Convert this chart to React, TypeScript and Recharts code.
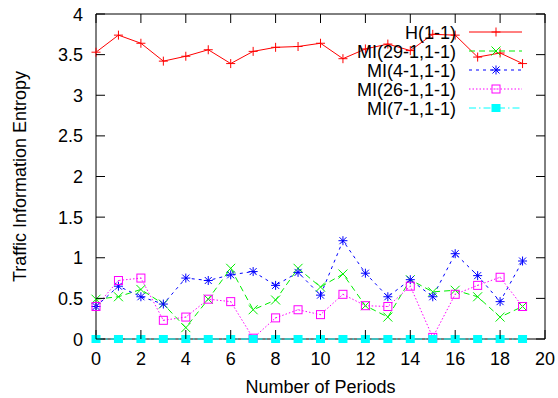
import React from 'react';
import { LineChart, Line, XAxis, YAxis, Legend, ReferenceArea } from 'recharts';

const periods = [0, 1, 2, 3, 4, 5, 6, 7, 8, 9, 10, 11, 12, 13, 14, 15, 16, 17, 18, 19];
const H = [3.53, 3.74, 3.64, 3.42, 3.48, 3.56, 3.39, 3.54, 3.59, 3.6, 3.64, 3.45, 3.57, 3.63, 3.55, 3.75, 3.74, 3.47, 3.52, 3.39];
const MI29 = [0.49, 0.52, 0.61, 0.43, 0.14, 0.49, 0.87, 0.36, 0.48, 0.87, 0.64, 0.8, 0.41, 0.27, 0.73, 0.58, 0.6, 0.52, 0.27, 0.4];
const MI4 = [0.4, 0.65, 0.52, 0.43, 0.75, 0.72, 0.79, 0.83, 0.66, 0.82, 0.54, 1.21, 0.81, 0.52, 0.73, 0.52, 1.05, 0.78, 0.46, 0.96];
const MI26 = [0.4, 0.72, 0.75, 0.23, 0.27, 0.49, 0.46, 0.01, 0.26, 0.36, 0.3, 0.55, 0.41, 0.4, 0.65, 0.02, 0.55, 0.66, 0.76, 0.4];
const MI7 = [0, 0, 0, 0, 0, 0, 0, 0, 0, 0, 0, 0, 0, 0, 0, 0, 0, 0, 0, 0];

const xTicks = [0, 2, 4, 6, 8, 10, 12, 14, 16, 18, 20];
const yTicks = [0, 0.5, 1, 1.5, 2, 2.5, 3, 3.5, 4];
const seriesNames = ['H(1-1)', 'MI(29-1,1-1)', 'MI(4-1,1-1)', 'MI(26-1,1-1)', 'MI(7-1,1-1)'];

const data = periods.map((p, i) => ({
  period: p,
  h: H[i],
  mi29: MI29[i],
  mi4: MI4[i],
  mi26: MI26[i],
  mi7: MI7[i],
}));

type Shape = 'plus' | 'cross' | 'star' | 'openSquare' | 'filledSquare';

const series: { key: string; name: string; color: string; dash?: string; shape: Shape }[] = [
  { key: 'h', name: seriesNames[0], color: '#ff0000', shape: 'plus' },
  { key: 'mi29', name: seriesNames[1], color: '#00ee00', dash: '6 4', shape: 'cross' },
  { key: 'mi4', name: seriesNames[2], color: '#0000ff', dash: '3 4', shape: 'star' },
  { key: 'mi26', name: seriesNames[3], color: '#ff00ff', dash: '1.5 2', shape: 'openSquare' },
  { key: 'mi7', name: seriesNames[4], color: '#00ffff', dash: '7 3 1.5 3', shape: 'filledSquare' },
];

const PW = 449;
const PH = 325;
const FS = 18;

function marker(shape: Shape, cx: number, cy: number, color: string, key?: string) {
  const r = 4.5;
  switch (shape) {
    case 'plus':
      return (
        <g key={key}>
          <line x1={cx - r} x2={cx + r} y1={cy} y2={cy} stroke={color} strokeWidth={1} />
          <line x1={cx} x2={cx} y1={cy - r} y2={cy + r} stroke={color} strokeWidth={1} />
        </g>
      );
    case 'cross':
      return (
        <g key={key}>
          <line x1={cx - r} x2={cx + r} y1={cy - r} y2={cy + r} stroke={color} strokeWidth={1} />
          <line x1={cx - r} x2={cx + r} y1={cy + r} y2={cy - r} stroke={color} strokeWidth={1} />
        </g>
      );
    case 'star':
      return (
        <g key={key}>
          <line x1={cx - r} x2={cx + r} y1={cy} y2={cy} stroke={color} strokeWidth={1} />
          <line x1={cx} x2={cx} y1={cy - r} y2={cy + r} stroke={color} strokeWidth={1} />
          <line x1={cx - 3.5} x2={cx + 3.5} y1={cy - 3.5} y2={cy + 3.5} stroke={color} strokeWidth={1} />
          <line x1={cx - 3.5} x2={cx + 3.5} y1={cy + 3.5} y2={cy - 3.5} stroke={color} strokeWidth={1} />
        </g>
      );
    case 'openSquare':
      return (
        <g key={key}>
          <rect x={cx - 4} y={cy - 4} width={8} height={8} fill="none" stroke={color} strokeWidth={1} />
          <rect x={cx - 0.5} y={cy - 0.5} width={1} height={1} fill={color} />
        </g>
      );
    case 'filledSquare':
    default:
      return <rect key={key} x={cx - 4.5} y={cy - 4} width={9} height={8} fill={color} stroke="none" />;
  }
}

const fmt = (v: number) => String(v);

const YTick = (props: any) => {
  const { x, y, payload } = props;
  return (
    <g>
      <text x={x - 13} y={y} dy={6.5} textAnchor="end" fontSize={FS} fill="#000">
        {fmt(payload.value)}
      </text>
      <line x1={x} x2={x + 9} y1={y} y2={y} stroke="#000" />
      <line x1={x + PW - 9} x2={x + PW} y1={y} y2={y} stroke="#000" />
    </g>
  );
};

const XTick = (props: any) => {
  const { x, y, payload } = props;
  return (
    <g>
      <text x={x} y={y + 26} textAnchor="middle" fontSize={FS} fill="#000">
        {fmt(payload.value)}
      </text>
      <line x1={x} x2={x} y1={y} y2={y - 9} stroke="#000" />
      <line x1={x} x2={x} y1={y - PH} y2={y - PH + 9} stroke="#000" />
    </g>
  );
};

const renderLegend = () => (
  <svg width={558} height={130} style={{ display: 'block' }}>
    {series.map((s, i) => {
      const y = 32 + 19 * i;
      return (
        <g key={s.key}>
          <text x={456} y={y + 6.5} textAnchor="end" fontSize={FS} fill="#000" fontFamily="'Liberation Sans', Arial, sans-serif">
            {s.name}
          </text>
          <line x1={469} x2={522} y1={y} y2={y} stroke={s.color} strokeDasharray={s.dash} strokeWidth={1} />
          {marker(s.shape, 496, y, s.color)}
        </g>
      );
    })}
  </svg>
);

export default function App() {
  return (
    <div style={{ position: 'absolute', left: 0, top: 0, width: 558, height: 398, fontFamily: "'Liberation Sans', Arial, sans-serif", background: '#fff' }}>
      <LineChart width={558} height={398} data={data} margin={{ top: 14, right: 13, bottom: 0, left: 0 }}>
        <XAxis
          dataKey="period"
          type="number"
          domain={[0, 20]}
          ticks={xTicks}
          interval={0}
          height={59}
          tickSize={0}
          tickMargin={0}
          tickLine={false}
          axisLine={false}
          tick={<XTick />}
          label={{ value: 'Number of Periods', position: 'insideBottom', offset: 5, fontSize: FS, fill: '#000' }}
        />
        <YAxis
          type="number"
          domain={[0, 4]}
          ticks={yTicks}
          interval={0}
          width={96}
          tickSize={0}
          tickMargin={0}
          tickLine={false}
          axisLine={false}
          tick={<YTick />}
          label={{
            content: (p: any) => {
              const vb = p.viewBox || { x: 0, y: 14, width: 96, height: PH };
              const cx = 26;
              const cy = vb.y + vb.height / 2;
              return (
                <text x={cx} y={cy} transform={`rotate(-90 ${cx} ${cy})`} textAnchor="middle" fontSize={FS} fill="#000">
                  Traffic Information Entropy
                </text>
              );
            },
          }}
        />
        <ReferenceArea x1={0} x2={20} y1={0} y2={4} fill="none" fillOpacity={0} stroke="#000" strokeWidth={1} ifOverflow="visible" />
        <Legend layout="vertical" align="center" verticalAlign="middle" wrapperStyle={{ left: 0, top: 0, width: 558 }} content={renderLegend} />
        {series.map((s) => (
          <Line
            key={s.key}
            type="linear"
            dataKey={s.key}
            name={s.name}
            stroke={s.color}
            strokeWidth={1}
            strokeDasharray={s.dash}
            isAnimationActive={false}
            dot={(p: any) => marker(s.shape, p.cx, p.cy, s.color, `${s.key}-${p.index}`)}
            activeDot={false}
          />
        ))}
      </LineChart>
    </div>
  );
}
